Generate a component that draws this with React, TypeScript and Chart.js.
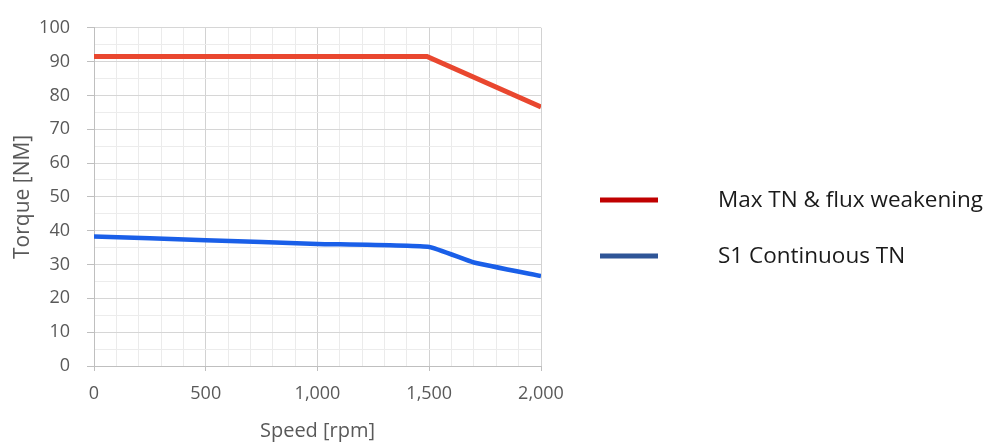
import React, { useEffect, useRef } from "react";
import { Chart, registerables } from "chart.js";

Chart.register(...registerables);

const speedMax = [0, 1490, 2000];
const torqueMax = [91.5, 91.5, 76.6];

const speedS1 = [0, 500, 1000, 1500, 1700, 2000];
const torqueS1 = [38.3, 37.2, 36.1, 35.2, 30.6, 26.6];

const seriesNames = ["Max TN & flux weakening", "S1 Continuous TN"];
const lineColors = ["#E9472F", "#1A5FE8"];
const legendColors = ["#C00000", "#2F5597"];

const xTitle = "Speed [rpm]";
const yTitle = "Torque [NM]";

const FONT = "'Open Sans', 'DejaVu Sans', sans-serif";

const legendPlugin = {
  id: "sideLegend",
  afterDraw(chart: any) {
    const ctx = chart.ctx;
    const rows = [201, 257];
    ctx.save();
    seriesNames.forEach((name, i) => {
      const y = rows[i];
      ctx.strokeStyle = legendColors[i];
      ctx.lineWidth = 5;
      ctx.lineCap = "butt";
      ctx.beginPath();
      ctx.moveTo(600, y - 1);
      ctx.lineTo(658, y - 1);
      ctx.stroke();
      ctx.fillStyle = "#1a1a1a";
      ctx.font = `22.5px ${FONT}`;
      ctx.textBaseline = "middle";
      ctx.textAlign = "left";
      ctx.fillText(name, 718, y);
    });
    ctx.restore();
  },
};

export default function App() {
  const ref = useRef<HTMLCanvasElement | null>(null);

  useEffect(() => {
    if (!ref.current) return;
    const chart = new Chart(ref.current, {
      type: "line",
      data: {
        datasets: [
          {
            label: seriesNames[0],
            data: speedMax.map((x, i) => ({ x, y: torqueMax[i] })),
            borderColor: lineColors[0],
            backgroundColor: lineColors[0],
            borderWidth: 5,
            pointRadius: 0,
            tension: 0,
          },
          {
            label: seriesNames[1],
            data: speedS1.map((x, i) => ({ x, y: torqueS1[i] })),
            borderColor: lineColors[1],
            backgroundColor: lineColors[1],
            borderWidth: 4.5,
            pointRadius: 0,
            tension: 0.12,
          },
        ],
      },
      options: {
        animation: false,
        responsive: false,
        maintainAspectRatio: false,
        layout: { padding: { left: 0, top: 17, right: 456, bottom: 0 } },
        plugins: {
          legend: { display: false },
          tooltip: { enabled: false },
        },
        scales: {
          x: {
            type: "linear",
            min: 0,
            max: 2000,
            afterFit: (s: any) => {
              s.height = 80;
            },
            ticks: {
              stepSize: 100,
              autoSkip: false,
              maxRotation: 0,
              padding: 12,
              color: "#595959",
              font: { family: FONT, size: 18 },
              callback: (v: any) =>
                Number(v) % 500 === 0 ? Number(v).toLocaleString("en-US") : "",
            },
            grid: {
              color: (c: any) =>
                c.tick && c.tick.value % 500 === 0 ? "#d2d2d2" : "#ebebeb",
              tickColor: (c: any) =>
                c.tick && c.tick.value % 500 === 0 ? "#bfbfbf" : "rgba(0,0,0,0)",
              tickLength: 5,
              lineWidth: 1,
            },
            border: { color: "#bfbfbf" },
            title: {
              display: true,
              text: xTitle,
              color: "#595959",
              font: { family: FONT, size: 20 },
              padding: { top: 0, bottom: 3 },
            },
          },
          y: {
            min: 0,
            max: 100,
            afterFit: (s: any) => {
              s.width = 94;
            },
            ticks: {
              stepSize: 5,
              autoSkip: false,
              padding: 17,
              color: "#595959",
              font: { family: FONT, size: 18 },
              callback: (v: any) => (Number(v) % 10 === 0 ? String(v) : ""),
            },
            grid: {
              color: (c: any) =>
                c.tick && c.tick.value % 10 === 0 ? "#d6d6d6" : "#ececec",
              tickColor: (c: any) =>
                c.tick && c.tick.value % 10 === 0 ? "#bfbfbf" : "rgba(0,0,0,0)",
              tickLength: 7,
              lineWidth: 1,
            },
            border: { color: "#bfbfbf" },
            title: {
              display: true,
              text: yTitle,
              color: "#595959",
              font: { family: FONT, size: 21 },
              padding: { top: 10, bottom: 0 },
            },
          },
        },
      },
      plugins: [legendPlugin],
    } as any);
    return () => chart.destroy();
  }, []);

  return (
    <div
      style={{
        position: "fixed",
        left: 0,
        top: 0,
        width: 997,
        height: 446,
        background: "#ffffff",
      }}
    >
      <canvas ref={ref} width={997} height={446} style={{ display: "block" }} />
    </div>
  );
}
